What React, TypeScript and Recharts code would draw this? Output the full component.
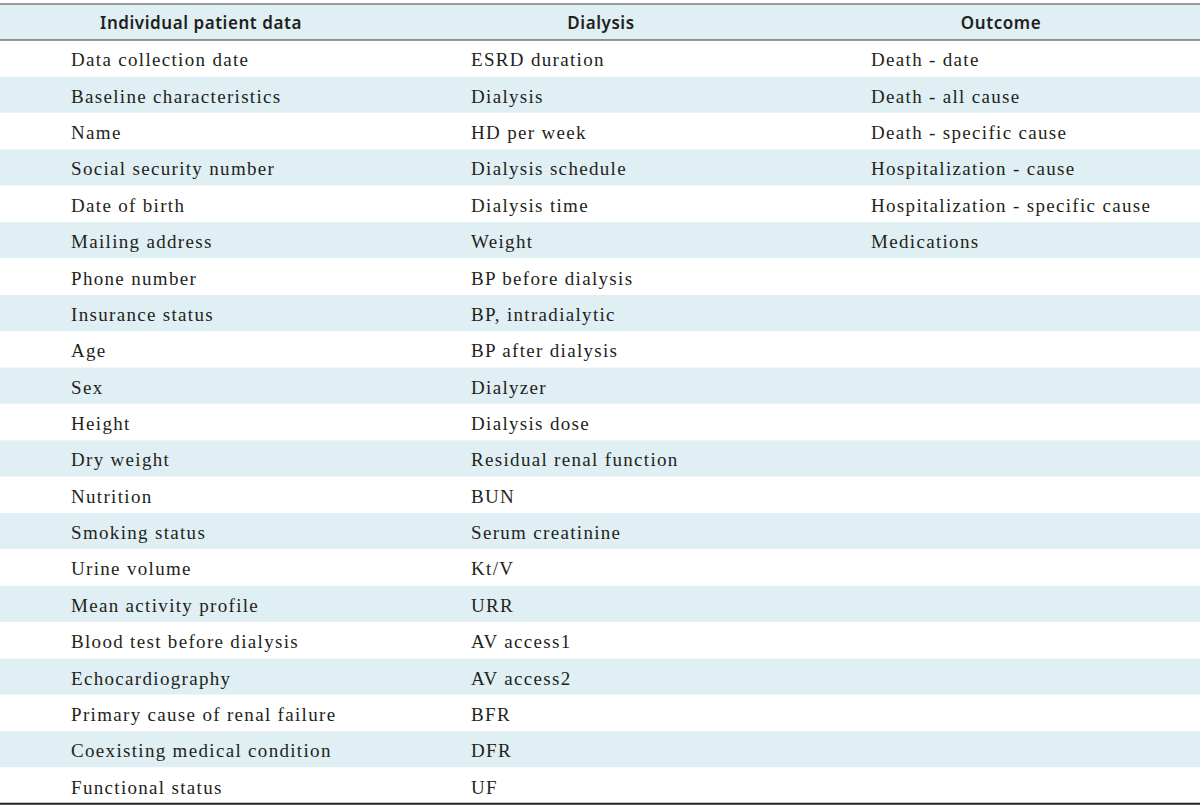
import React from 'react';
import { BarChart, Bar, XAxis, YAxis } from 'recharts';

const headers = ['Individual patient data', 'Dialysis', 'Outcome'];

const individualPatientData = [
  'Data collection date', 'Baseline characteristics', 'Name', 'Social security number',
  'Date of birth', 'Mailing address', 'Phone number', 'Insurance status', 'Age', 'Sex',
  'Height', 'Dry weight', 'Nutrition', 'Smoking status', 'Urine volume',
  'Mean activity profile', 'Blood test before dialysis', 'Echocardiography',
  'Primary cause of renal failure', 'Coexisting medical condition', 'Functional status',
];

const dialysisItems = [
  'ESRD duration', 'Dialysis', 'HD per week', 'Dialysis schedule', 'Dialysis time', 'Weight',
  'BP before dialysis', 'BP, intradialytic', 'BP after dialysis', 'Dialyzer', 'Dialysis dose',
  'Residual renal function', 'BUN', 'Serum creatinine', 'Kt/V', 'URR', 'AV access1',
  'AV access2', 'BFR', 'DFR', 'UF',
];

const outcomeItems = [
  'Death - date', 'Death - all cause', 'Death - specific cause', 'Hospitalization - cause',
  'Hospitalization - specific cause', 'Medications',
];

type Row = { id: string; header: boolean; cells: string[]; span: number; stripe: boolean };

const rows: Row[] = [
  { id: 'h', header: true, cells: headers, span: 3, stripe: true },
  ...individualPatientData.map((t, i) => ({
    id: 'r' + i,
    header: false,
    cells: [t, dialysisItems[i] ?? '', outcomeItems[i] ?? ''],
    span: 3,
    stripe: i % 2 === 1,
  })),
];

const TEXT = '#231f20';
const STRIPE = '#dfeff3';
const NCOL = 3;

const RowShape = (props: any) => {
  const { x, y, width, height, payload, index } = props;
  const colW = width / NCOL;
  const last = index === rows.length - 1;
  return (
    <g>
      {payload.stripe && <rect x={x} y={y} width={width} height={height} fill={STRIPE} />}
      {payload.cells.map((c: string, k: number) =>
        payload.header ? (
          <text
            key={k}
            x={x + colW * (k + 0.5) + 1}
            y={y + height / 2 + 7}
            textAnchor="middle"
            fontFamily="'Noto Sans', sans-serif"
            fontWeight={600}
            fontSize={17}
            letterSpacing={0.55}
            fill={TEXT}
          >
            {c}
          </text>
        ) : (
          <text
            key={k}
            x={x + colW * k + 71}
            y={y + height / 2 + 8}
            fontFamily="'Liberation Serif', serif"
            fontSize={19}
            letterSpacing={1.32}
            fill={TEXT}
          >
            {c}
          </text>
        )
      )}
      {payload.header && (
        <>
          <line x1={x} x2={x + width} y1={y} y2={y} stroke="#7a7a7a" strokeWidth={1.5} />
          <line x1={x} x2={x + width} y1={y + height} y2={y + height} stroke="#333" strokeWidth={1} />
        </>
      )}
      {last && <line x1={x} x2={x + width} y1={y + height} y2={y + height} stroke="#222" strokeWidth={2} />}
    </g>
  );
};

export default function App() {
  return (
    <div style={{ position: 'absolute', left: 0, top: 0, background: '#fff' }}>
      <BarChart
        width={1200}
        height={808}
        data={rows}
        layout="vertical"
        margin={{ top: 4, right: 0, bottom: 4, left: 0 }}
        barCategoryGap={0}
      >
        <XAxis type="number" domain={[0, 3]} hide />
        <YAxis type="category" dataKey="id" hide />
        <Bar dataKey="span" isAnimationActive={false} shape={RowShape} />
      </BarChart>
    </div>
  );
}
